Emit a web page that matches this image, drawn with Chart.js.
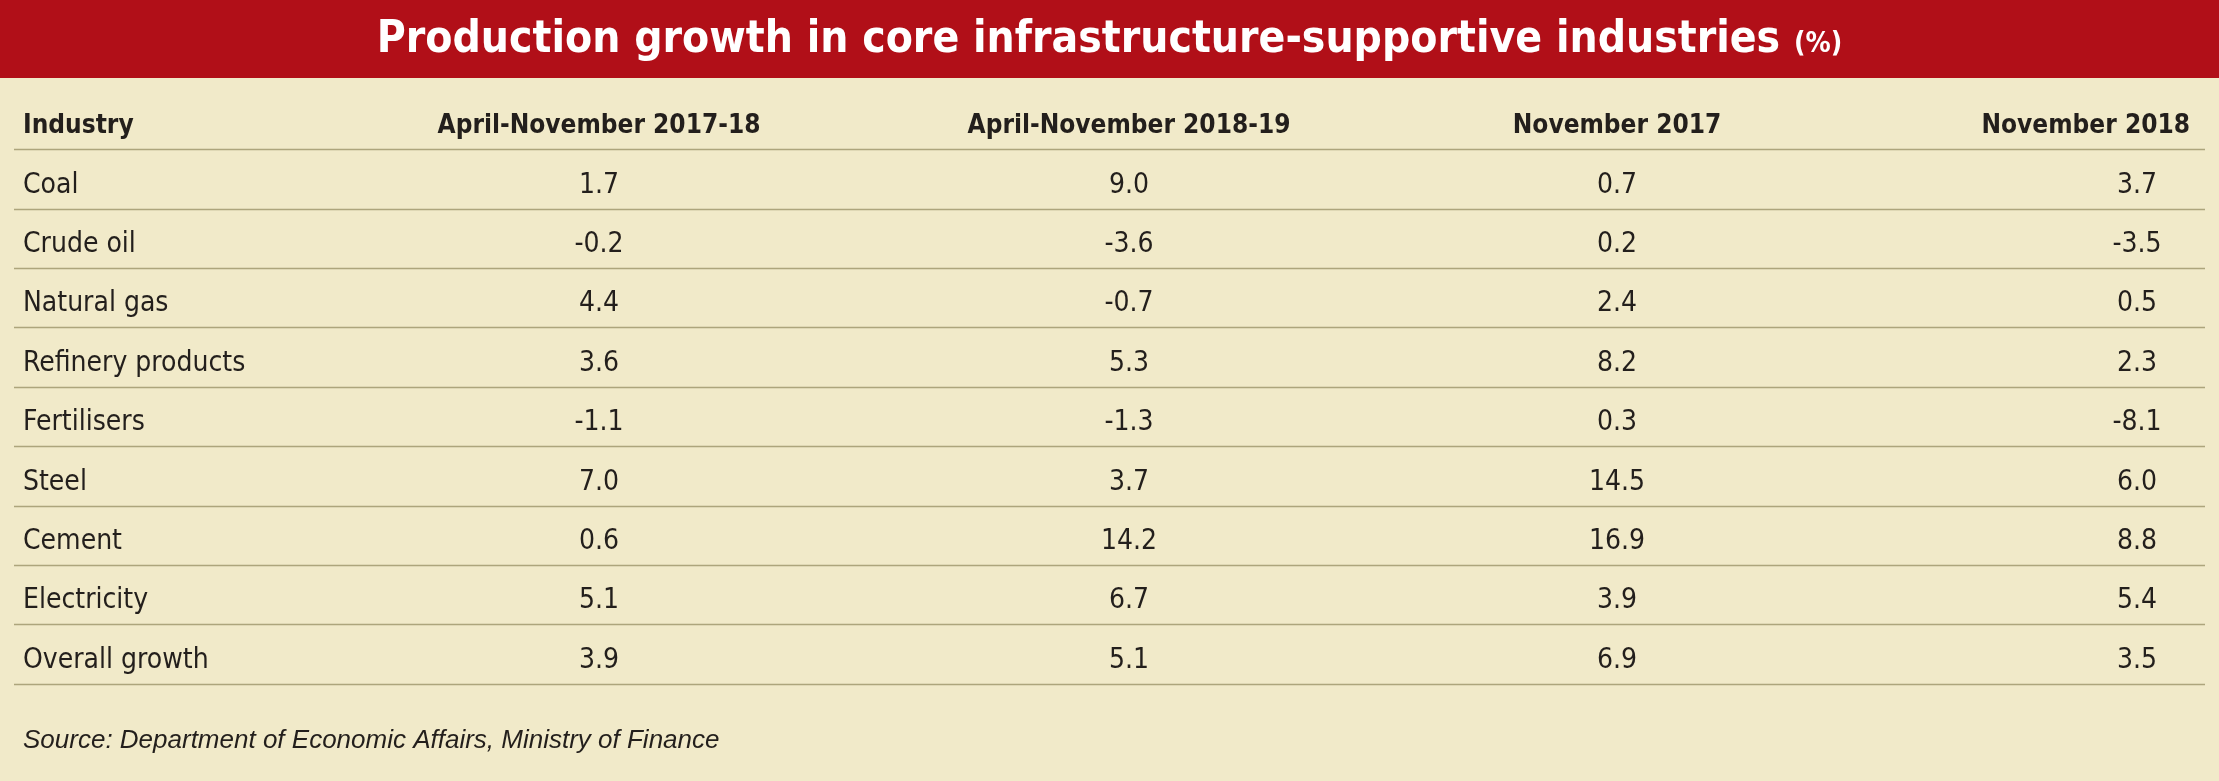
<!DOCTYPE html>
<html><head><meta charset="utf-8">
<script src="https://cdn.jsdelivr.net/npm/chart.js@4/dist/chart.umd.min.js"></script>
<style>html,body{margin:0;padding:0;background:#f1eac9;overflow:hidden}canvas{display:block}</style>
</head><body>
<canvas id="c" width="2219" height="781"></canvas>
<script>
const title = "Production growth in core infrastructure-supportive industries";
const titleUnit = "(%)";
const headers = ["Industry","April-November 2017-18","April-November 2018-19","November 2017","November 2018"];
const industries = ["Coal","Crude oil","Natural gas","Refinery products","Fertilisers","Steel","Cement","Electricity","Overall growth"];
const aprNov1718 = ["1.7","-0.2","4.4","3.6","-1.1","7.0","0.6","5.1","3.9"];
const aprNov1819 = ["9.0","-3.6","-0.7","5.3","-1.3","3.7","14.2","6.7","5.1"];
const nov2017 = ["0.7","0.2","2.4","8.2","0.3","14.5","16.9","3.9","6.9"];
const nov2018 = ["3.7","-3.5","0.5","2.3","-8.1","6.0","8.8","5.4","3.5"];
const source = "Source: Department of Economic Affairs, Ministry of Finance";

const FONT = '"Liberation Sans Narrow","DejaVu Sans Condensed","Roboto Condensed",sans-serif';
const cols = [
  {hx:23, ha:'left', vx:23, va:'left'},
  {hx:599, ha:'center', vx:599, va:'center'},
  {hx:1129, ha:'center', vx:1129, va:'center'},
  {hx:1617, ha:'center', vx:1617, va:'center'},
  {hx:2190, ha:'right', vx:2137, va:'center'}
];
const rowStep = 59.4, firstY = 126;
const yMin = -firstY/rowStep, yMax = yMin + 781/rowStep;

const tablePlugin = {
  id:'table',
  beforeDraw(chart){
    const c = chart.ctx;
    c.save();
    c.fillStyle = '#f1eac9'; c.fillRect(0,0,2219,781);
    c.fillStyle = '#b10f18'; c.fillRect(0,0,2219,78);
    c.fillStyle = '#fff'; c.textBaseline='middle';
    c.font = 'bold 44px ' + FONT;
    const w1 = c.measureText(title + ' ').width;
    c.font = 'bold 28px ' + FONT;
    const w2 = c.measureText(titleUnit).width;
    let x0 = (2219 - w1 - w2)/2;
    c.font = 'bold 44px ' + FONT; c.textAlign='left';
    c.fillText(title + ' ', x0, 41);
    c.font = 'bold 28px ' + FONT;
    c.fillText(titleUnit, x0 + w1, 45);
    c.restore();
  },
  afterDraw(chart){
    const c = chart.ctx, y = chart.scales.y;
    c.save();
    c.textBaseline='middle';
    c.strokeStyle = '#ada57c'; c.lineWidth = 1.5;
    for (let k=0;k<=industries.length;k++){
      const py = Math.round(y.getPixelForValue(k+0.39))+0.5;
      c.beginPath(); c.moveTo(14,py); c.lineTo(2205,py); c.stroke();
    }
    c.fillStyle = '#231f1c';
    c.font = 'bold 26px ' + FONT;
    headers.forEach((h,i)=>{ c.textAlign=cols[i].ha; c.fillText(h, cols[i].hx, y.getPixelForValue(0)); });
    c.font = '28px ' + FONT;
    const series = [industries, aprNov1718, aprNov1819, nov2017, nov2018];
    series.forEach((s,i)=>{
      c.textAlign = cols[i].va;
      s.forEach((v,r)=> c.fillText(v, cols[i].vx, y.getPixelForValue(r+1)));
    });
    c.font = 'italic 26px "Liberation Sans","DejaVu Sans",sans-serif'; c.textAlign='left';
    c.fillText(source, 23, y.getPixelForValue(10.35));
    c.restore();
  }
};

new Chart(document.getElementById('c'), {
  type:'scatter',
  data:{datasets:[{data:industries.map((n,i)=>({x:0,y:i+1})), pointRadius:0}]},
  options:{
    responsive:false, animation:false, devicePixelRatio:1,
    layout:{padding:0},
    plugins:{legend:{display:false}, tooltip:{enabled:false}},
    scales:{
      x:{type:'linear', display:false, min:0, max:2219},
      y:{type:'linear', display:false, reverse:true, min:yMin, max:yMax}
    }
  },
  plugins:[tablePlugin]
});
</script>
</body></html>
